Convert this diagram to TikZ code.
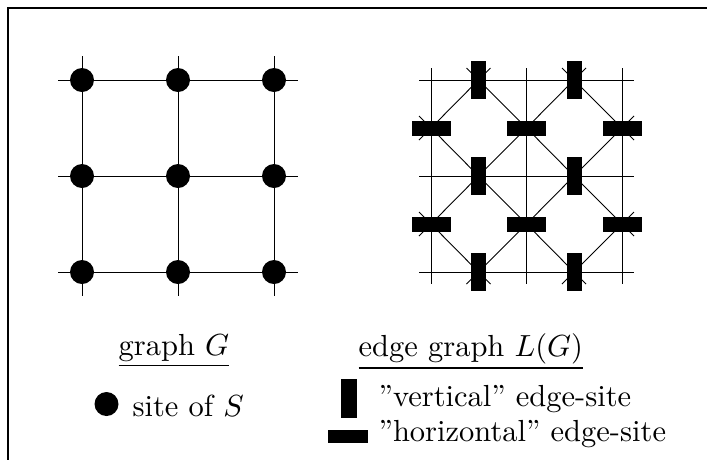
\documentclass[tikz,border=0pt]{standalone}
\usepackage{fontspec}
\pgfdeclarelayer{bg}
\pgfsetlayers{bg,main}
\begin{document}
\begin{tikzpicture}[x=1pt,y=-1pt,
  gline/.style={line width=0.9pt},
  site/.style={circle,fill=black,inner sep=0pt,minimum size=24pt},
  vsite/.style={rectangle,fill=black,inner sep=0pt,minimum width=15pt,minimum height=38pt},
  hsite/.style={rectangle,fill=black,inner sep=0pt,minimum width=39pt,minimum height=15pt},
  lbl/.style={anchor=base west,inner sep=0pt,scale=3.05,transform shape,font=\fontsize{10}{12}\selectfont}]
\useasboundingbox (0,0) rectangle (707,459);
% frame
\draw[line width=1.3pt] (8,460) -- (8,8) -- (708,8);

% ---------- graph G ----------
\foreach \x/\i in {82/0,178/1,274/2}
  \foreach \y/\j in {80/0,176/1,272/2}
    \node[site] (G\i\j) at (\x,\y) {};
\begin{pgfonlayer}{bg}
\foreach \j in {0,1,2} {
  \coordinate (gl\j) at ([xshift=-24pt]G0\j.center);
  \coordinate (gr\j) at ([xshift=24pt]G2\j.center);
  \draw[gline] (gl\j) -- (gr\j);
}
\foreach \i in {0,1,2} {
  \coordinate (gt\i) at ([yshift=24pt]G\i0.center);
  \coordinate (gb\i) at ([yshift=-24pt]G\i2.center);
  \draw[gline] (gt\i) -- (gb\i);
}
\end{pgfonlayer}

% ---------- edge graph L(G) ----------
% "vertical" edge-sites on horizontal edges
\foreach \x/\c in {478.5/0,574/1}
  \foreach \y/\r in {80/0,176/1,272/2}
    \node[vsite] (V\c\r) at (\x,\y) {};
% "horizontal" edge-sites on vertical edges
\foreach \x/\c in {431/0,526.5/1,622/2}
  \foreach \y/\r in {128/0,224/1}
    \node[hsite] (H\c\r) at (\x,\y) {};
\begin{pgfonlayer}{bg}
% grid lines
\foreach \y/\r in {80/0,176/1,272/2} {
  \coordinate (rl\r) at (419,\y);
  \coordinate (rr\r) at (634,\y);
  \draw[gline] (rl\r) -- (rr\r);
}
\foreach \x/\c in {431/0,526.5/1,622/2} {
  \coordinate (rt\c) at (\x,68);
  \coordinate (rb\c) at (\x,284);
  \draw[gline] (rt\c) -- (rb\c);
}
% adjacency diagonals
\foreach \c/\cc in {0/1,1/2}
  \foreach \r/\rr in {0/1,1/2} {
    \draw[gline] (V\c\r.center) -- (H\c\r.center);
    \draw[gline] (V\c\r.center) -- (H\cc\r.center);
    \draw[gline] (V\c\rr.center) -- (H\c\r.center);
    \draw[gline] (V\c\rr.center) -- (H\cc\r.center);
  }
% stubs to the dangling edges
\foreach \c in {0,1} {
  \coordinate (sa\c) at ([shift={(-12pt,12pt)}]V\c0.center);
  \coordinate (sb\c) at ([shift={(12pt,12pt)}]V\c0.center);
  \coordinate (sc\c) at ([shift={(-12pt,-12pt)}]V\c2.center);
  \coordinate (sd\c) at ([shift={(12pt,-12pt)}]V\c2.center);
  \draw[gline] (sa\c) -- (V\c0.center) -- (sb\c);
  \draw[gline] (sc\c) -- (V\c2.center) -- (sd\c);
}
\foreach \r in {0,1} {
  \coordinate (ta\r) at ([shift={(-12pt,12pt)}]H0\r.center);
  \coordinate (tb\r) at ([shift={(-12pt,-12pt)}]H0\r.center);
  \coordinate (tc\r) at ([shift={(12pt,12pt)}]H2\r.center);
  \coordinate (td\r) at ([shift={(12pt,-12pt)}]H2\r.center);
  \draw[gline] (ta\r) -- (H0\r.center) -- (tb\r);
  \draw[gline] (tc\r) -- (H2\r.center) -- (td\r);
}
\end{pgfonlayer}

% ---------- legends ----------
\node[lbl] (tG) at (118,355) {\underline{graph $G$}};
\node[site] (legS) at (106.5,404) {};
\node[lbl] (tS) at (132,416) {site of $S$};

\node[lbl] (tL) at (358,356) {\underline{edge graph $L(G)$}};
\node[vsite,minimum width=16pt,minimum height=39pt] (legV) at (349,398.5) {};
\node[lbl] (tV) at (378,406) {''vertical'' edge-site};
\node[hsite,minimum width=40pt,minimum height=13pt] (legH) at (348,436.5) {};
\node[lbl] (tH) at (378,441) {''horizontal'' edge-site};
\end{tikzpicture}
\end{document}
